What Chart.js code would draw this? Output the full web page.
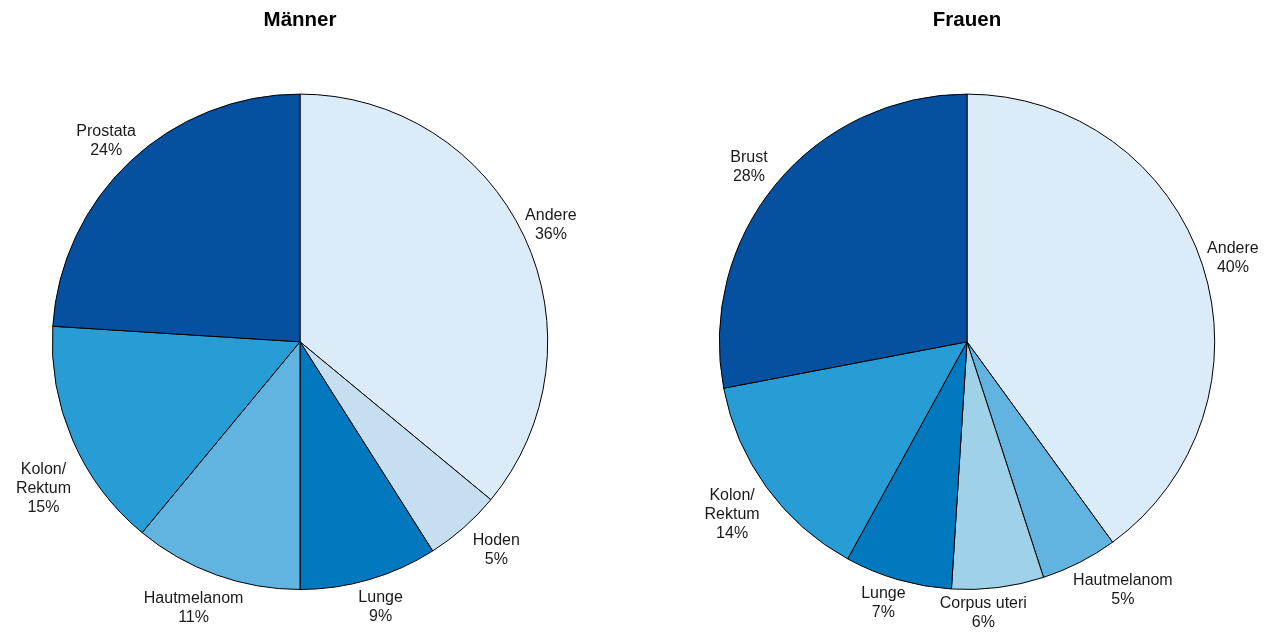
<!DOCTYPE html>
<html>
<head>
<meta charset="utf-8">
<script src="https://cdn.jsdelivr.net/npm/chart.js@4.4.0/dist/chart.umd.min.js"></script>
<style>
  body { margin: 0; background: #fff; width: 1275px; height: 632px; position: relative; overflow: hidden; }
  .box { position: absolute; top: 0; width: 600px; height: 632px; }
  #left { left: 0; }
  #right { left: 667px; }
</style>
</head>
<body>
<div class="box" id="left"><canvas id="maenner"></canvas></div>
<div class="box" id="right"><canvas id="frauen"></canvas></div>
<script>
// Männer
let menLabels = ['Andere', 'Hoden', 'Lunge', 'Hautmelanom', 'Kolon/\nRektum', 'Prostata'];
let menValues = [36, 5, 9, 11, 15, 24];
let menColors = ['#dcebf8', '#c6dff0', '#0279be', '#62b4e0', '#289dd5', '#0551a0'];

// Frauen
let womenLabels = ['Andere', 'Hautmelanom', 'Corpus uteri', 'Lunge', 'Kolon/\nRektum', 'Brust'];
let womenValues = [40, 5, 6, 7, 14, 28];
let womenColors = ['#dcebf8', '#62b4e0', '#9fd1e8', '#0279be', '#289dd5', '#0551a0'];

// small hand nudges so labels don't crowd each other [dx, dy]
let menNudge = [[-4, 3], [10, -3], [2, -5], [-11, 1], [2, 35], [-1, 5]];
let womenNudge = [[-2, 3], [28, -3], [-19, -8], [-5, -9], [-7, 7], [-1, 5]];

let fontFamily = '"Liberation Sans", Arial, Helvetica, sans-serif';

// name + percent written just outside each slice
let outerLabels = {
  id: 'outerLabels',
  afterDatasetsDraw(chart, args, opts) {
    let ctx = chart.ctx;
    let meta = chart.getDatasetMeta(0);
    let data = chart.data.datasets[0].data;
    let nudge = opts.nudge || [];
    ctx.save();
    ctx.font = '16px ' + fontFamily;
    ctx.fillStyle = '#1a1a1a';
    ctx.textAlign = 'center';
    ctx.textBaseline = 'middle';
    meta.data.forEach(function(arc, i) {
      let mid = (arc.startAngle + arc.endAngle) / 2;
      let r = arc.outerRadius + 34;
      let n = nudge[i] || [0, 0];
      let x = arc.x + Math.cos(mid) * r + n[0];
      let y = arc.y + Math.sin(mid) * r + n[1];
      let lines = chart.data.labels[i].split('\n');
      lines.push(data[i] + '%');
      let lh = 19;
      let top = y - (lines.length - 1) * lh / 2;
      lines.forEach(function(t, j) {
        ctx.fillText(t, x, top + j * lh);
      });
    });
    ctx.restore();
  }
};

function makePie(id, title, labels, values, colors, nudge) {
  new Chart(id, {
    type: 'pie',
    data: {
      labels: labels,
      datasets: [{
        data: values,
        backgroundColor: colors,
        borderColor: '#000',
        borderWidth: 1
      }]
    },
    options: {
      responsive: true,
      maintainAspectRatio: false,
      animation: false,
      layout: { padding: { left: 50, right: 50, bottom: 42 } },
      plugins: {
        legend: { display: false },
        tooltip: { enabled: false },
        title: {
          display: true,
          text: title,
          color: '#000',
          font: { family: fontFamily, size: 20.5, weight: 'bold' },
          padding: { top: 8, bottom: 61 }
        },
        outerLabels: { nudge: nudge }
      }
    },
    plugins: [outerLabels]
  });
}

makePie('maenner', 'Männer', menLabels, menValues, menColors, menNudge);
makePie('frauen', 'Frauen', womenLabels, womenValues, womenColors, womenNudge);
</script>
</body>
</html>
